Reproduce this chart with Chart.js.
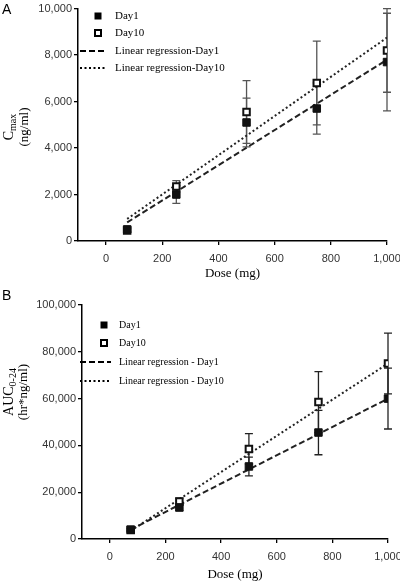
<!DOCTYPE html>
<html lang="en">
<head>
  <meta charset="UTF-8">
  <title>Cmax and AUC vs dose</title>
  <script src="https://cdn.jsdelivr.net/npm/chart.js"></script>
  <style>
    body { margin: 0; background: #fff; }
    .panel { position: absolute; left: 0; width: 400px; height: 292px; }
    .letter { position: absolute; left: 2px; font: 14px "Liberation Sans", Arial, sans-serif; color: #000; }
  </style>
</head>
<body>
<div class="panel" style="top:0"><canvas id="cmaxChart"></canvas></div>
<div class="panel" style="top:292px"><canvas id="aucChart"></canvas></div>
<div class="letter" style="top:1px">A</div>
<div class="letter" style="top:287px">B</div>

<script>
  // doses (mg)
  const doses = [75, 250, 500, 750, 1000];
  const regDoses = [75, 1000];
  const xTicks = [0, 200, 400, 600, 800, 1000];

  // panel A: Cmax (ng/ml)
  const cmaxDay1 = [500, 2000, 5100, 5700, 7700];
  const cmaxDay1Err = [100, 380, 1050, 1100, 2100];
  const cmaxDay10 = [450, 2350, 5550, 6800, 8200];
  const cmaxDay10Err = [80, 250, 1350, 1800, 1800];
  const cmaxRegDay1 = [800, 7800];
  const cmaxRegDay10 = [950, 8750];
  const cmaxTicks = [0, 2000, 4000, 6000, 8000, 10000];

  // panel B: AUC0-24 (hr*ng/ml)
  const aucDay1 = [4000, 13500, 31000, 45500, 60000];
  const aucDay1Err = [500, 1500, 4000, 9500, 13000];
  const aucDay10 = [3800, 16000, 38500, 58500, 75000];
  const aucDay10Err = [400, 1500, 6500, 13000, 13000];
  const aucRegDay1 = [4000, 60000];
  const aucRegDay10 = [3500, 75000];
  const aucTicks = [0, 20000, 40000, 60000, 80000, 100000];

  const tickFont = { family: 'Liberation Sans', size: 11 };
  const serif = '"Liberation Serif", "Times New Roman", serif';

  function pts(xs, ys) { return xs.map((x, i) => ({ x: x, y: ys[i] })); }

  // error bars, drawn under the markers
  const errorBars = {
    id: 'errorBars',
    beforeDatasetsDraw(chart, args, opts) {
      const ctx = chart.ctx, xs = chart.scales.x, ys = chart.scales.y;
      ctx.save();
      ctx.strokeStyle = opts.color;
      ctx.lineWidth = 1.3;
      opts.series.forEach(s => {
        doses.forEach((d, i) => {
          const px = xs.getPixelForValue(d);
          const hi = ys.getPixelForValue(s.values[i] + s.errors[i]);
          const lo = ys.getPixelForValue(s.values[i] - s.errors[i]);
          ctx.beginPath();
          ctx.moveTo(px, hi); ctx.lineTo(px, lo);
          ctx.moveTo(px - 4, hi); ctx.lineTo(px + 4, hi);
          ctx.moveTo(px - 4, lo); ctx.lineTo(px + 4, lo);
          ctx.stroke();
        });
      });
      ctx.restore();
    }
  };

  // legend and y title with subscript
  const extras = {
    id: 'extras',
    afterDraw(chart, args, opts) {
      const ctx = chart.ctx;
      ctx.save();
      ctx.fillStyle = '#000';
      ctx.strokeStyle = '#000';
      ctx.font = opts.legend.size + 'px ' + serif;
      ctx.textBaseline = 'middle';
      const L = opts.legend;
      L.labels.forEach((txt, i) => {
        const y = L.rows[i];
        if (i === 0) {
          ctx.fillRect(L.marker - 3.5, y - 3.5, 7, 7);
        } else if (i === 1) {
          ctx.lineWidth = 2;
          ctx.fillStyle = '#fff';
          ctx.fillRect(L.marker - 3, y - 3, 6, 6);
          ctx.strokeRect(L.marker - 3, y - 3, 6, 6);
          ctx.fillStyle = '#000';
        } else {
          ctx.lineWidth = 2;
          ctx.setLineDash(i === 2 ? [6, 3] : [2, 2.5]);
          ctx.beginPath();
          ctx.moveTo(L.lineStart, y); ctx.lineTo(L.lineEnd, y);
          ctx.stroke();
          ctx.setLineDash([]);
        }
        ctx.fillText(txt, L.textX, y);
      });

      // rotated y title
      const T = opts.title;
      ctx.save();
      ctx.translate(T.x1, T.y);
      ctx.rotate(-Math.PI / 2);
      ctx.font = '14px ' + serif;
      const wMain = ctx.measureText(T.main).width;
      ctx.font = '10px ' + serif;
      const wSub = ctx.measureText(T.sub).width;
      const start = -(wMain + wSub) / 2;
      ctx.textAlign = 'left';
      ctx.font = '14px ' + serif;
      ctx.fillText(T.main, start, 0);
      ctx.font = '10px ' + serif;
      ctx.fillText(T.sub, start + wMain, 4);
      ctx.restore();

      ctx.save();
      ctx.translate(T.x2, T.y);
      ctx.rotate(-Math.PI / 2);
      ctx.font = '13px ' + serif;
      ctx.textAlign = 'center';
      ctx.fillText(T.line2, 0, 0);
      ctx.restore();
      ctx.restore();
    }
  };

  function makeChart(id, cfg) {
    return new Chart(document.getElementById(id), {
      type: 'scatter',
      data: {
        datasets: [
          { label: 'Day1', data: pts(doses, cfg.day1), pointStyle: 'rect', pointRadius: 5.3,
            backgroundColor: '#111', borderColor: '#111', borderWidth: 1 },
          { label: 'Day10', data: pts(doses, cfg.day10), pointStyle: 'rect', pointRadius: 4.6,
            backgroundColor: '#fff', borderColor: '#111', borderWidth: 2 },
          { label: 'reg1', data: pts(regDoses, cfg.reg1), showLine: true, pointRadius: 0,
            borderColor: '#222', borderWidth: 2, borderDash: [6, 3] },
          { label: 'reg10', data: pts(regDoses, cfg.reg10), showLine: true, pointRadius: 0,
            borderColor: '#222', borderWidth: 2, borderDash: [2, 2.5] }
        ]
      },
      options: {
        responsive: true,
        maintainAspectRatio: false,
        animation: false,
        layout: { padding: { top: cfg.padTop, right: 0, left: 0, bottom: 0 } },
        plugins: {
          legend: { display: false },
          tooltip: { enabled: false },
          errorBars: { color: cfg.barColor, series: [
            { values: cfg.day1, errors: cfg.day1Err },
            { values: cfg.day10, errors: cfg.day10Err }
          ] },
          extras: { legend: cfg.legend, title: cfg.title }
        },
        scales: {
          x: {
            type: 'linear', min: -100, max: 1000,
            afterBuildTicks: s => { s.ticks = xTicks.map(v => ({ value: v })); },
            afterFit: s => { s.height = cfg.xHeight; s.paddingRight = cfg.padRight; s.paddingLeft = 0; },
            grid: { drawOnChartArea: false, tickLength: 4, color: '#000', lineWidth: 1.3 },
            border: { color: '#000', width: 1.5 },
            ticks: { font: tickFont, color: '#333', padding: cfg.xPad,
                     callback: v => v.toLocaleString('en-US') },
            title: { display: true, text: 'Dose (mg)', color: '#000',
                     font: { family: 'Liberation Serif', size: 13 },
                     padding: { top: 2, bottom: cfg.titleBottom } }
          },
          y: {
            min: 0, max: cfg.yTicks[cfg.yTicks.length - 1],
            afterBuildTicks: s => { s.ticks = cfg.yTicks.map(v => ({ value: v })); },
            afterFit: s => { s.width = cfg.yWidth; },
            grid: { drawOnChartArea: false, tickLength: 4, color: '#000', lineWidth: 1.3 },
            border: { color: '#000', width: 1.5 },
            ticks: { font: tickFont, color: '#333', padding: 2,
                     callback: v => v.toLocaleString('en-US') }
          }
        }
      },
      plugins: [errorBars, extras]
    });
  }

  makeChart('cmaxChart', {
    day1: cmaxDay1, day1Err: cmaxDay1Err, day10: cmaxDay10, day10Err: cmaxDay10Err,
    reg1: cmaxRegDay1, reg10: cmaxRegDay10, yTicks: cmaxTicks,
    yWidth: 78, xHeight: 51, padTop: 5, padRight: 13, barColor: '#555', xPad: 7, titleBottom: 11,
    legend: { labels: ['Day1', 'Day10', 'Linear regression-Day1', 'Linear regression-Day10'],
              rows: [16, 33, 51, 68], marker: 98, lineStart: 80, lineEnd: 107, textX: 115, size: 11 },
    title: { main: 'C', sub: 'max', line2: '(ng/ml)', x1: 9, x2: 25, y: 127 }
  });

  makeChart('aucChart', {
    day1: aucDay1, day1Err: aucDay1Err, day10: aucDay10, day10Err: aucDay10Err,
    reg1: aucRegDay1, reg10: aucRegDay10, yTicks: aucTicks,
    yWidth: 82, xHeight: 45, padTop: 13, padRight: 12, barColor: '#222', xPad: 7, titleBottom: 2,
    legend: { labels: ['Day1', 'Day10', 'Linear regression - Day1', 'Linear regression - Day10'],
              rows: [33, 51, 70, 89], marker: 104, lineStart: 80, lineEnd: 111, textX: 119, size: 10 },
    title: { main: 'AUC', sub: '0-24', line2: '(hr*ng/ml)', x1: 9, x2: 24, y: 100 }
  });
</script>
</body>
</html>
